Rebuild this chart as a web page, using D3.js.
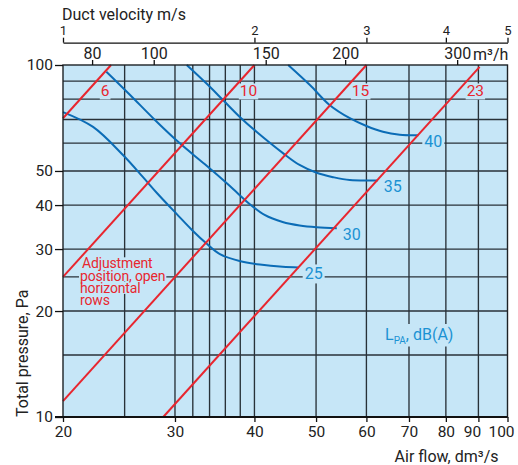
<!DOCTYPE html>
<html><head><meta charset="utf-8">
<script src="https://cdn.jsdelivr.net/npm/d3@7"></script>
<style>
html,body{margin:0;padding:0;background:#fff;}
svg{display:block;font-family:Roboto,"Noto Sans",sans-serif;}
</style></head><body>
<svg id="chart" width="518" height="465"></svg>
<script>
// Air flow (dm³/s), horizontal log axis
const flowTicks = [20, 30, 40, 50, 60, 70, 80, 90, 100];
const flowGrid = [25, 30, 32, 34, 36, 38, 40, 50, 60, 70, 80, 90];
// Total pressure (Pa), vertical log axis
const pressureTicks = [10, 20, 30, 40, 50, 100];
const pressureGrid = [15, 20, 25, 30, 40, 50, 60, 70, 80, 90];
// Secondary scales along the top
const velocityTicks = [1, 2, 3, 4, 5];      // m/s
const flowPerVelocity = 20;                 // dm³/s per m/s in this duct
const m3hTicks = [80, 100, 150, 200, 300];  // m³/h
const m3hPerDm3s = 3.6;

// Adjustment positions (open horizontal rows), p ∝ q²
const adjustLabels = ["6", "10", "15", "23"];
const adjustFrom = [[20, 70.6], [20, 25], [20, 11.1], [28.75, 10]];
const adjustTo = [[23.8, 100], [40, 100], [60, 100], [90.4, 98.8]];
const adjustLabelPressure = 81.4;

// Sound pressure level curves, L_PA dB(A): [air flow dm³/s, pressure Pa]
const soundLevels = ["25", "30", "35", "40"];
const sound25 = [[20, 73.5], [22.3, 66.7], [24.85, 55.5], [26.7, 48.1], [28.1, 43.3], [30.2, 37.7],
  [31.9, 34.0], [33.7, 31.0], [35.3, 29.0], [37.9, 27.75], [40.8, 27.1], [44.3, 26.7], [46.95, 26.6]];
const sound30 = [[23.4, 95.7], [25.5, 82.2], [27.9, 69.8], [30.5, 60.0], [33.4, 52.3], [36.6, 45.3],
  [39.3, 40.3], [41.5, 37.5], [44.3, 35.8], [47.1, 35.0], [50.1, 34.6], [53.9, 34.4]];
const sound35 = [[31.3, 100], [33.6, 88.7], [35.7, 79.5], [37.9, 71.3], [40.3, 64.6],
  [44.4, 56.1], [47.1, 52.0], [50.1, 49.4], [53.2, 48.0], [56.5, 47.1], [62.5, 47.0]];
const sound40 = [[45.2, 100], [48.9, 87.7], [52.5, 77.0], [56.5, 70.6], [60.0, 67.1], [63.7, 64.6],
  [67.7, 63.4], [72.4, 63.2]];
const soundCurves = [sound25, sound30, sound35, sound40];

(function draw() {
  const plotLeft = 63, plotRight = 507.5, plotTop = 65, plotBottom = 417;
  const bgBlue = "#c6e6f7", red = "#e8262f", curveBlue = "#0b6cb6", labelBlue = "#1b92d3", gridCol = "#283138";

  const svg = d3.select("#chart");
  const x = d3.scaleLog().domain([20, 100]).range([plotLeft, plotRight]);
  const y = d3.scaleLog().domain([10, 100]).range([plotBottom, plotTop]);
  const xVel = d3.scaleLog().domain([20 / flowPerVelocity, 100 / flowPerVelocity]).range([plotLeft, plotRight]);
  const xM3h = d3.scaleLog().domain([20 * m3hPerDm3s, 100 * m3hPerDm3s]).range([plotLeft, plotRight]);

  // plot background
  svg.append("rect").attr("x", plotLeft).attr("y", plotTop)
    .attr("width", plotRight - plotLeft).attr("height", plotBottom - plotTop).attr("fill", bgBlue);

  // grid
  const grid = svg.append("g").attr("stroke", gridCol).attr("stroke-width", 1.35);
  grid.selectAll("line.v").data(flowGrid).join("line").attr("class", "v")
    .attr("x1", d => x(d)).attr("x2", d => x(d)).attr("y1", plotTop).attr("y2", plotBottom);
  grid.selectAll("line.h").data(pressureGrid).join("line").attr("class", "h")
    .attr("y1", d => y(d)).attr("y2", d => y(d)).attr("x1", plotLeft).attr("x2", plotRight);

  const maskLayer = svg.append("g");
  const lineLayer = svg.append("g");
  const textLayer = svg.append("g");

  // background box behind a label so the grid does not run through it
  function maskBox(node, pad) {
    const b = node.getBBox();
    maskLayer.append("rect").attr("x", b.x - pad[0]).attr("y", b.y - pad[1])
      .attr("width", b.width + 2 * pad[0]).attr("height", b.height + 2 * pad[1]).attr("fill", bgBlue);
  }

  // sound level curves
  const curveLine = d3.line().x(d => x(d[0])).y(d => y(d[1])).curve(d3.curveCatmullRom.alpha(0.5));
  lineLayer.selectAll("path.snd").data(soundCurves).join("path").attr("class", "snd")
    .attr("d", curveLine).attr("fill", "none").attr("stroke", curveBlue).attr("stroke-width", 2);

  soundCurves.forEach((c, i) => {
    const end = c[c.length - 1];
    const t = textLayer.append("text").attr("x", x(end[0]) + 6).attr("y", y(end[1]) + 12)
      .attr("font-size", 16).attr("fill", labelBlue).text(soundLevels[i]);
    maskBox(t.node(), [2, 0]);
  });

  // adjustment lines
  const straight = d3.line().x(d => x(d[0])).y(d => y(d[1]));
  adjustLabels.forEach((lab, i) => {
    const a = adjustFrom[i], b = adjustTo[i];
    lineLayer.append("path").attr("d", straight([a, b])).attr("fill", "none")
      .attr("stroke", red).attr("stroke-width", 2);
    const tt = (Math.log(adjustLabelPressure) - Math.log(a[1])) / (Math.log(b[1]) - Math.log(a[1]));
    const q = Math.exp(Math.log(a[0]) + tt * (Math.log(b[0]) - Math.log(a[0])));
    const t = textLayer.append("text").attr("x", x(q) + 22.5).attr("y", y(adjustLabelPressure))
      .attr("text-anchor", "middle").attr("font-size", 15.5).attr("fill", red).text(lab);
    maskBox(t.node(), [1, -1]);
  });

  // adjustment note, one text block with tight leading
  const note = ["Adjustment", "position, open", "horizontal", "rows"];
  const noteText = textLayer.append("text").attr("font-size", 14).attr("letter-spacing", -0.15)
    .attr("fill", red);
  note.forEach((s, i) => {
    const ts = noteText.append("tspan").attr("x", i === 0 ? 82 : 80).attr("y", 268.3 + i * 12.3).text(s);
    maskBox(ts.node(), [1, -2]);
  });

  // L_PA label
  const lpa = textLayer.append("text").attr("x", 385).attr("y", 340).attr("font-size", 16).attr("fill", labelBlue);
  lpa.append("tspan").text("L");
  lpa.append("tspan").attr("font-size", 10).attr("dy", 3.5).text("PA");
  lpa.append("tspan").attr("dy", -3.5).text(", dB(A)");
  maskBox(lpa.node(), [2, 1]);

  // plot frame
  svg.append("rect").attr("x", plotLeft).attr("y", plotTop)
    .attr("width", plotRight - plotLeft).attr("height", plotBottom - plotTop)
    .attr("fill", "none").attr("stroke", "#1d2226").attr("stroke-width", 1.4);
  svg.append("line").attr("x1", plotLeft - 8).attr("x2", plotRight).attr("y1", plotBottom).attr("y2", plotBottom)
    .attr("stroke", "#111").attr("stroke-width", 2);

  function styleAxis(g, size) {
    g.selectAll("text").attr("font-size", size).attr("fill", "#222").attr("font-family", "Roboto");
    g.selectAll("line").attr("stroke", "#111").attr("stroke-width", 1.3);
    g.select(".domain").attr("stroke", "#111").attr("stroke-width", 1.3);
  }

  // bottom axis; the last two labels sit a little left so they stay inside the frame
  const gx = svg.append("g").attr("transform", `translate(0,${plotBottom})`)
    .call(d3.axisBottom(x).tickValues(flowTicks).tickFormat(d3.format("d")).tickSize(5).tickPadding(4).tickSizeOuter(0));
  gx.select(".domain").remove();
  styleAxis(gx, 15.5);
  gx.selectAll(".tick text").filter(d => d >= 90).attr("dx", -6.5);

  // left axis
  const gy = svg.append("g").attr("transform", `translate(${plotLeft},0)`)
    .call(d3.axisLeft(y).tickValues(pressureTicks).tickFormat(d3.format("d")).tickSize(8).tickPadding(2).tickSizeOuter(0));
  gy.select(".domain").remove();
  styleAxis(gy, 15.5);

  // top m³/h axis
  const gm = svg.append("g").attr("transform", `translate(0,${plotTop})`)
    .call(d3.axisTop(xM3h).tickValues(m3hTicks).tickFormat(d3.format("d")).tickSize(5).tickPadding(1).tickSizeOuter(0));
  gm.select(".domain").remove();
  styleAxis(gm, 16);
  svg.append("text").attr("x", 473).attr("y", 59.5).attr("font-size", 16).attr("fill", "#222").text("m³/h");

  // top velocity axis
  const gv = svg.append("g").attr("transform", "translate(0,42.7)")
    .call(d3.axisTop(xVel).tickValues(velocityTicks).tickFormat(d3.format("d")).tickSize(5).tickPadding(3).tickSizeOuter(0));
  styleAxis(gv, 13);

  // titles
  svg.append("text").attr("x", 62).attr("y", 19.5).attr("font-size", 16).attr("fill", "#222").text("Duct velocity m/s");
  svg.append("text").attr("x", 498.5).attr("y", 461.5).attr("text-anchor", "end").attr("font-size", 16)
    .attr("fill", "#222").text("Air flow, dm³/s");
  svg.append("text").attr("transform", "translate(28,417) rotate(-90)").attr("font-size", 16)
    .attr("fill", "#222").text("Total pressure, Pa");
})();
</script>
</body></html>
